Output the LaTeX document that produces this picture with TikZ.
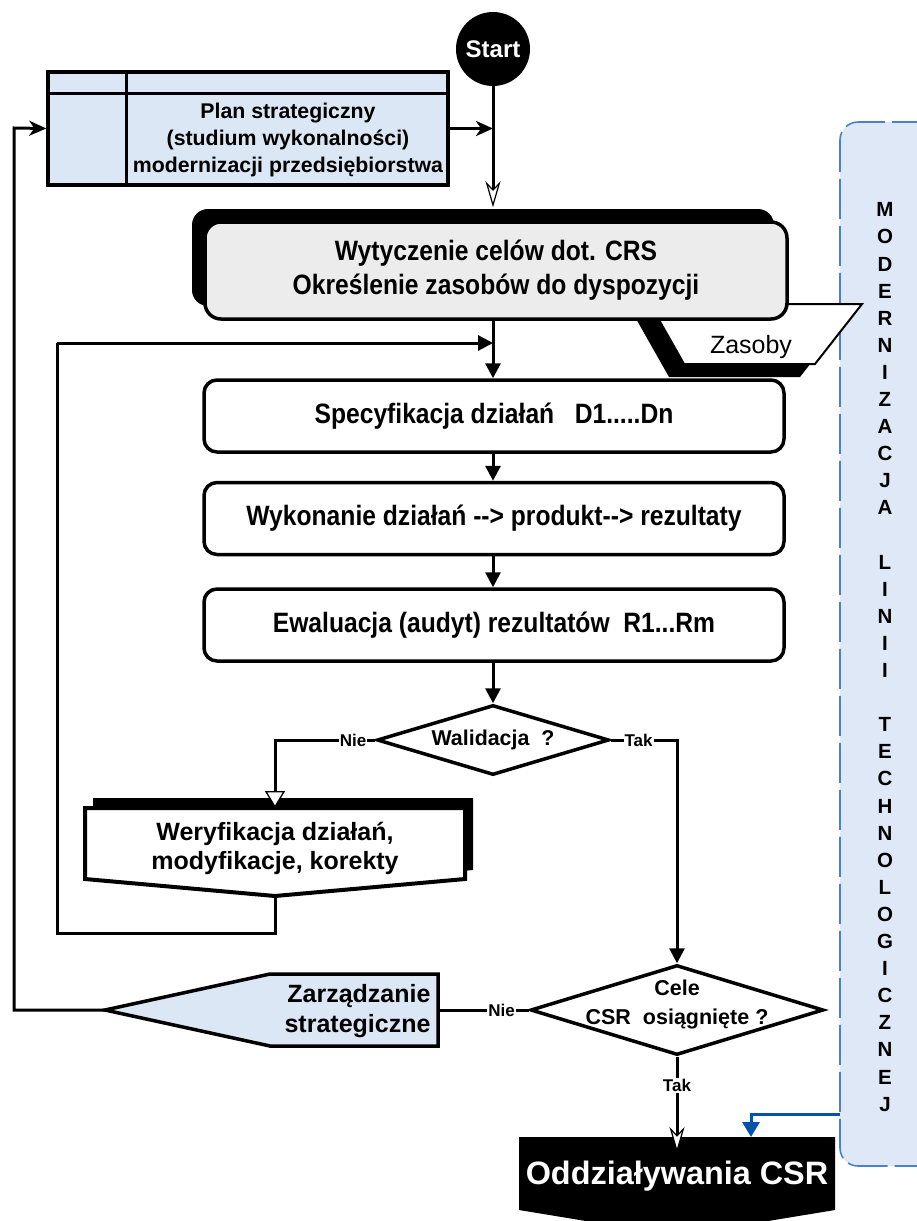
\documentclass[tikz,border=0pt]{standalone}
\usepackage{fontspec}
\setmainfont{Liberation Sans}
\newfontfamily\narrowsf[FakeStretch=0.88]{Liberation Sans}
\usetikzlibrary{arrows.meta,shapes.geometric,shadows}
\definecolor{planblue}{RGB}{220,231,245}
\definecolor{panelfill}{RGB}{222,232,246}
\definecolor{paneledge}{RGB}{70,130,205}
\definecolor{techblue}{RGB}{0,82,170}
\definecolor{goalgray}{RGB}{236,236,236}
\tikzset{
  conn/.style={line width=3pt},
  flow/.style={conn, -{Triangle[length=15pt, width=15pt]}},
  barbflow/.style={conn, -{Stealth[length=17pt, width=15pt, inset=5pt]}},
  openflow/.style={conn, -{Stealth[open, fill=white, line width=1.2pt, length=26pt, width=15pt, inset=8pt]}},
  opentri/.style={conn, -{Triangle[open, fill=white, line width=1.3pt, length=17pt, width=20pt]}},
  techflow/.style={techblue, line width=3pt, -{Triangle[length=15pt, width=17pt]}},
  yesno/.style={fill=white, inner sep=1pt, font=\bfseries\fontsize{17}{20}\selectfont},
  stepbox/.style={draw, line width=3.5pt, rounded corners=13pt, fill=white,
    minimum width=580pt, minimum height=72pt,
    font=\narrowsf\bfseries\fontsize{28}{32}\selectfont},
  decision/.style={draw, diamond, line width=3.5pt, fill=white, inner sep=0pt},
}
\begin{document}
\begin{tikzpicture}[x=1pt, y=-1pt, every node/.style={font=\bfseries}]
\useasboundingbox (0,0) rectangle (917,1221);

% right panel
\node[draw=paneledge, line width=1.6pt, dash pattern=on 40pt off 7pt,
      fill=panelfill, rounded corners=18pt, minimum width=110pt,
      minimum height=1044pt] (panel) at (895,644) {};
\node[align=center, font=\bfseries\fontsize{20.5}{27.1}\selectfont] (paneltext) at (885,657)
  {M\\O\\D\\E\\R\\N\\I\\Z\\A\\C\\J\\A\\[27.1pt]L\\I\\N\\I\\I\\[27.1pt]T\\E\\C\\H\\N\\O\\L\\O\\G\\I\\C\\Z\\N\\E\\J};

% start and plan
\node[circle, fill=black, text=white, minimum size=74pt, inner sep=0pt,
      font=\bfseries\fontsize{24}{26}\selectfont] (start) at (493,49) {Start};
\node[draw, line width=3.5pt, fill=planblue, minimum width=400pt,
      minimum height=113pt] (plan) at (248,128.5) {};
\draw[line width=3pt] ([xshift=80pt]plan.north west) -- ([xshift=80pt]plan.south west);
\draw[line width=3pt] ([yshift=-23pt]plan.north west) -- ([yshift=-23pt]plan.north east);
\node[align=center, font=\bfseries\fontsize{21.3}{27}\selectfont] (plantext) at (288,140)
  {Plan strategiczny\\(studium wykonalności)\\modernizacji przedsiębiorstwa};

% resources
\fill (635,317) -- (847,317) -- (800,377) -- (669,377) -- cycle;
\draw[line width=2pt, fill=white] (650,304) -- (862,304) -- (815,364) -- (684,364) -- cycle;
\node[font=\fontsize{25}{28}\selectfont] (res) at (751,347) {Zasoby};

% goals
\node[draw, line width=3.5pt, rounded corners=16pt, fill=goalgray,
      minimum width=582pt, minimum height=97pt, align=center,
      drop shadow={shadow xshift=-13pt, shadow yshift=13pt, fill=black, opacity=1},
      font=\narrowsf\bfseries\fontsize{28}{34}\selectfont] (goal) at (496,270.5)
  {Wytyczenie celów dot. CRS\\Określenie zasobów do dyspozycji};

% steps
\node[stepbox] (spec) at (494,416) {Specyfikacja działań\ \ \ D1.....Dn};
\node[stepbox] (exec) at (494,518.5) {Wykonanie działań -{}-> produkt-{}-> rezultaty};
\node[stepbox] (eval) at (494,625) {Ewaluacja (audyt) rezultatów\ \ R1...Rm};

% decisions
\node[decision, aspect=3.3, minimum width=232pt, minimum height=70pt,
      font=\bfseries\fontsize{21.4}{24}\selectfont] (valid) at (493,740) {Walidacja\ \ ?};
\node[decision, aspect=3.25, minimum width=293pt, minimum height=90pt] (goalsmet) at (677,1010) {};
\node[align=center, font=\bfseries\fontsize{21.5}{29}\selectfont] (goalstext) at (677,1004)
  {Cele\\CSR\ \ osiągnięte ?};

% verification
\fill (93,798) -- (473,798) -- (473,870) -- (283,887) -- (93,870) -- cycle;
\draw[line width=4pt, fill=white, line join=miter] (85,808) -- (465,808) -- (465,879) -- (275,896) -- (85,879) -- cycle;
\node[align=center, font=\bfseries\fontsize{25}{29}\selectfont] (verify) at (275,848)
  {Weryfikacja działań,\\modyfikacje, korekty};
\coordinate (verifytop) at (275,808);
\coordinate (verifytip) at (275,896);

% strategic management
\draw[line width=3.5pt, fill=planblue] (105,1010) -- (270,974) -- (438,974) -- (438,1046) -- (270,1046) -- cycle;
\node[anchor=east, align=right, font=\bfseries\fontsize{25}{30}\selectfont] (mgmt) at (434,1011)
  {Zarządzanie\\strategiczne};
\coordinate (mgmtin) at (438,1010);
\coordinate (mgmttip) at (105,1010);

% impacts
\fill (519,1137) -- (835,1137) -- (835,1210) -- (677,1236) -- (519,1210) -- cycle;
\node[text=white, font=\bfseries\fontsize{32.4}{36}\selectfont] (impact) at (677,1176) {Oddziaływania CSR};
\coordinate (impacttop) at (677,1137);

% connectors
\coordinate (outerturn) at (14,128);
\coordinate (innerturn) at (57,343);
\coordinate (techout) at (840,1114);
\draw[openflow, shorten >=13pt] (start) -- (start |- goal.north);
\draw[barbflow] (plan.east) -- (plan.east -| start);
\draw[barbflow] (mgmttip) -| (outerturn) -- (plan.west);
\draw[flow] (start |- goal.south) -- (start |- spec.north);
\draw[flow] (innerturn) -- (innerturn -| start);
\draw[flow] (start |- spec.south) -- (start |- exec.north);
\draw[flow] (start |- exec.south) -- (start |- eval.north);
\draw[flow] (start |- eval.south) -- (valid.north);
\draw[opentri] (valid.west) -| (verifytop) node[yesno, pos=0.11] {Nie};
\draw[flow] (valid.east) -| (goalsmet.north) node[yesno, pos=0.21] {Tak};
\draw[conn] (verifytip) -- ++(0,37) -| (innerturn);
\draw[conn] (goalsmet.west) -- (mgmtin) node[yesno, pos=0.3] {Nie};
\draw[openflow] (goalsmet.south) -- ([yshift=-16pt]impacttop) node[yesno, pos=0.3] {Tak};
\draw[techflow] (techout) -| ([xshift=74pt]impacttop);
\end{tikzpicture}
\end{document}
